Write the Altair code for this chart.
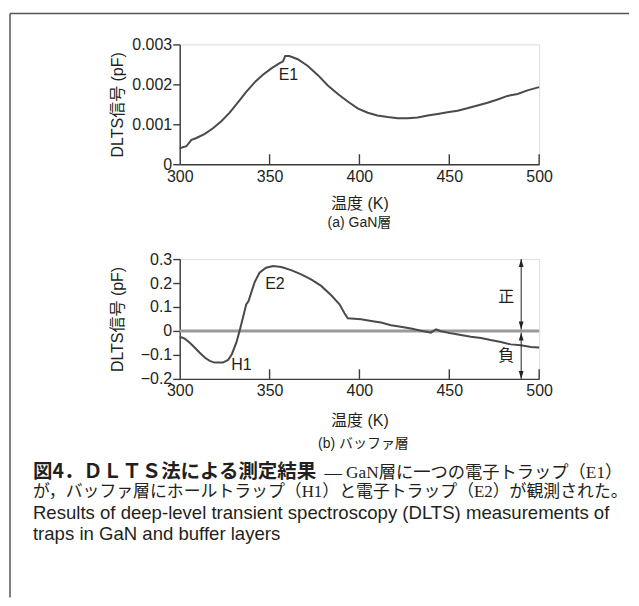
import altair as alt
import pandas as pd

# ---------------- data ----------------
gan_temp = [300, 303.7, 306.5, 309, 314, 318.5, 323, 327.8, 332.4, 337,
            341.7, 346.3, 351, 355.6, 357.4, 358.7, 361, 365.7, 371.3, 376.9,
            382.4, 388, 393.5, 399, 404.6, 410, 415.7, 421.3, 426.9, 432.4,
            438, 443.5, 449, 454.6, 460, 465.7, 471.3, 476.9, 482.4, 488,
            493.5, 500]
gan_signal = [0.00040, 0.00045, 0.00061, 0.00065, 0.00076, 0.00090, 0.00107, 0.00129, 0.00155, 0.00181,
              0.00205, 0.00224, 0.00240, 0.00253, 0.00257, 0.00271, 0.00271, 0.00263, 0.00246, 0.00223,
              0.00197, 0.00176, 0.00157, 0.00140, 0.00129, 0.00122, 0.00118, 0.00115, 0.00115, 0.00117,
              0.00122, 0.00126, 0.00130, 0.00134, 0.00140, 0.00147, 0.00154, 0.00162, 0.00171, 0.00176,
              0.00185, 0.00193]

buf_temp = [300, 302.8, 305.6, 308.3, 311, 313.9, 316.7, 319.4, 324, 326.9,
            329, 331.5, 333.3, 335.2, 337, 338.3, 339.8, 341.7, 344.4, 348,
            351.9, 356.5, 362, 367.6, 373.1, 378.7, 384.3, 388.9, 391.7, 393.5,
            397.2, 400.9, 406.5, 412, 417.6, 423, 428.7, 434.3, 439.8, 442.6,
            445.4, 451, 456.5, 462, 467.6, 473, 478.7, 484.3, 489.8, 495.4,
            500]
buf_signal = [-0.024, -0.032, -0.049, -0.069, -0.090, -0.111, -0.125, -0.132, -0.132, -0.121,
              -0.097, -0.049, 0.0, 0.056, 0.111, 0.125, 0.160, 0.204, 0.243, 0.264,
              0.271, 0.267, 0.254, 0.236, 0.215, 0.188, 0.149, 0.111, 0.074, 0.053,
              0.051, 0.049, 0.042, 0.035, 0.024, 0.018, 0.010, 0.001, -0.007, 0.007,
              -0.001, -0.010, -0.017, -0.024, -0.029, -0.038, -0.046, -0.056, -0.060, -0.067,
              -0.069]

x_tick_values = [300, 350, 400, 450, 500]
inner_tick_temps = [350, 400, 450, 500]
gan_y_ticks = [0, 0.001, 0.002, 0.003]
buf_y_ticks = [-0.2, -0.1, 0, 0.1, 0.2, 0.3]
gan_tick_len = 0.00025
buf_tick_len = 0.04

gan_peak_names = ["E1"]
gan_peak_temp = [360.5]
gan_peak_val = [0.00224]
buf_peak_names = ["E2", "H1"]
buf_peak_temp = [353, 334.4]
buf_peak_val = [0.195, -0.143]

sign_names = ["正", "負"]
sign_temp = [481.7, 481.7]
sign_val = [0.14, -0.105]
arrow_temp = 490
arrow_from = [0.3, -0.007]
arrow_to = [0.006, -0.2]
arrow_up_tips = [0.3, -0.007]
arrow_down_tips = [0.006, -0.2]

x_title = "温度 (K)"
y_title = "DLTS信号 (pF)"
sub_a = "(a) GaN層"
sub_b = "(b) バッファ層"
cap_bold = "図4．ＤＬＴＳ法による測定結果"
cap_rest = "— GaN層に一つの電子トラップ（E1）"
cap_line2 = "が，バッファ層にホールトラップ（H1）と電子トラップ（E2）が観測された。"
cap_line3 = "Results of deep-level transient spectroscopy (DLTS) measurements of"
cap_line4 = "traps in GaN and buffer layers"

# ---------------- style ----------------
LAT = "Liberation Sans"
MIX = "Liberation Sans, Noto Sans CJK JP"
JP = "Noto Sans CJK JP"
SERIF_JP = "Liberation Serif, Noto Sans CJK JP"
TXT = "#231f20"
AX = "#3c3c3c"
CURVE = "#4a4a4a"
FRAME = "#555555"
W, H = 360, 120

x_scale = alt.Scale(domain=[300, 500], nice=False, zero=False)


def x_axis(title_y):
    return alt.Axis(values=x_tick_values, ticks=False, tickSize=0, domainColor=AX, domainWidth=1.4,
                    labelFont=LAT, labelFontSize=16, labelColor=TXT, labelPadding=4, labelFlush=False,
                    grid=False, title=x_title, titleFont=MIX, titleFontSize=16, titleFontWeight="normal",
                    titleColor=TXT, titleY=title_y, titleBaseline="middle")


def y_axis(values, fmt):
    return alt.Axis(values=values, format=fmt, tickSize=7, tickColor=AX, tickWidth=1.4,
                    domainColor=AX, domainWidth=1.4, labelFont=LAT, labelFontSize=16,
                    labelColor=TXT, labelPadding=1, grid=False, title=y_title, titleFont=MIX,
                    titleFontSize=16, titleFontWeight="normal", titleColor=TXT, titleX=-62,
                    titleY=H / 2, titleAngle=-90, titleAlign="center", titleBaseline="middle")


def one(text):
    return pd.DataFrame({"t": [text]})


def build_panel(temps, vals, ydom, yticks, fmt, tick_len, title_y, peaks):
    y_scale = alt.Scale(domain=ydom, nice=False, zero=False)
    X = alt.X("temp:Q", scale=x_scale, axis=x_axis(title_y))
    Y = alt.Y("val:Q", scale=y_scale, axis=y_axis(yticks, fmt))
    curve = alt.Chart(pd.DataFrame({"temp": temps, "val": vals})).mark_line(
        color=CURVE, strokeWidth=2, interpolate="linear").encode(x=X, y=Y)
    tick_df = pd.DataFrame({"temp": inner_tick_temps,
                            "val": [ydom[0]] * len(inner_tick_temps),
                            "val2": [ydom[0] + tick_len] * len(inner_tick_temps)})
    ticks = alt.Chart(tick_df).mark_rule(color=AX, strokeWidth=1.4).encode(x=X, y=Y, y2="val2:Q")
    names, ptemp, pval = peaks
    labels = alt.Chart(pd.DataFrame({"temp": ptemp, "val": pval, "name": names})).mark_text(
        font=LAT, fontSize=16, color=TXT, align="center", baseline="middle").encode(x=X, y=Y, text="name:N")
    return X, Y, [curve, ticks, labels]


# ---------------- panel (a) ----------------
Xa, Ya, layers_a = build_panel(gan_temp, gan_signal, [0, 0.003], gan_y_ticks, ".3~f", gan_tick_len, 39,
                               (gan_peak_names, gan_peak_temp, gan_peak_val))
frame_top = alt.Chart(one("f")).mark_rule(color=FRAME, strokeWidth=1.5).encode(
    x=alt.value(-170), x2=alt.value(450), y=alt.value(-31))
frame_left = alt.Chart(one("f")).mark_rule(color=FRAME, strokeWidth=1.5).encode(
    x=alt.value(-170), y=alt.value(-31), y2=alt.value(554))
sub_a_txt = alt.Chart(one(sub_a)).mark_text(font=MIX, fontSize=14, color=TXT, align="center",
                                           baseline="middle").encode(
    x=alt.value(W / 2), y=alt.value(H + 59), text="t:N")
panel_a = alt.layer(frame_top, frame_left, *layers_a, sub_a_txt).properties(width=W, height=H)

# ---------------- panel (b) ----------------
Xb, Yb, layers_b = build_panel(buf_temp, buf_signal, [-0.2, 0.3], buf_y_ticks, ".1~f", buf_tick_len, 42,
                               (buf_peak_names, buf_peak_temp, buf_peak_val))
zero_line = alt.Chart(pd.DataFrame({"temp": [300], "temp2": [500], "val": [0.0]})).mark_rule(
    color="#9a9a9a", strokeWidth=3).encode(x=Xb, x2="temp2:Q", y=Yb)
arrows = alt.Chart(pd.DataFrame({"temp": [arrow_temp] * 2, "val": arrow_from, "val2": arrow_to})).mark_rule(
    color="#222222", strokeWidth=1).encode(x=Xb, y=Yb, y2="val2:Q")
heads_up = alt.Chart(pd.DataFrame({"temp": [arrow_temp] * 2, "val": arrow_up_tips})).mark_point(
    shape="M0,0L-0.3,1L0.3,1Z", size=256, filled=True, color="#222222", opacity=1, strokeWidth=0).encode(x=Xb, y=Yb)
heads_down = alt.Chart(pd.DataFrame({"temp": [arrow_temp] * 2, "val": arrow_down_tips})).mark_point(
    shape="M0,0L-0.3,-1L0.3,-1Z", size=256, filled=True, color="#222222", opacity=1, strokeWidth=0).encode(x=Xb, y=Yb)
signs = alt.Chart(pd.DataFrame({"temp": sign_temp, "val": sign_val, "name": sign_names})).mark_text(
    font=JP, fontSize=16, color=TXT, align="center", baseline="middle").encode(x=Xb, y=Yb, text="name:N")
sub_b_txt = alt.Chart(one(sub_b)).mark_text(font=MIX, fontSize=14, color=TXT, align="center",
                                           baseline="middle").encode(
    x=alt.value(W / 2 + 4), y=alt.value(H + 65), text="t:N")


def cap(text, x, y, font, size, weight="normal"):
    return alt.Chart(one(text)).mark_text(font=font, fontSize=size, fontWeight=weight, color=TXT,
                                          align="left", baseline="middle").encode(
        x=alt.value(x), y=alt.value(y), text="t:N")


captions = [
    cap(cap_bold, -147, 213, JP, 19.5, "bold"),
    cap(cap_rest, 145, 214, SERIF_JP, 17.3),
    cap(cap_line2, -147, 233, SERIF_JP, 16.9),
    cap(cap_line3, -147, 254, LAT, 18.6),
    cap(cap_line4, -147, 275, LAT, 18.6),
]

panel_b = alt.layer(zero_line, *layers_b, arrows, heads_up, heads_down, signs, sub_b_txt,
                    *captions).properties(width=W, height=H)

chart = alt.vconcat(panel_a, panel_b, spacing=95, bounds="flush").properties(
    padding={"left": 0, "top": 3, "right": 0, "bottom": 0}
).configure_view(stroke=None).configure(background="white")

chart.save("out.html", embed_options={"renderer": "svg", "actions": False})
